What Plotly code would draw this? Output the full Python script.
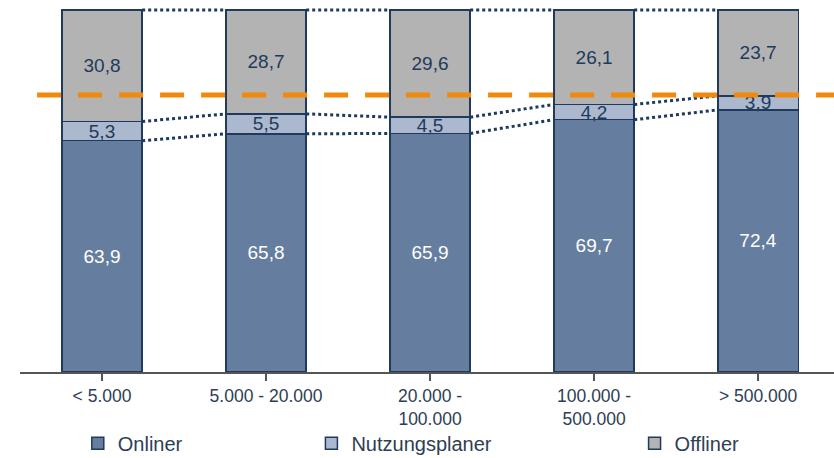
import plotly.graph_objects as go

categories = ["< 5.000", "5.000 - 20.000", "20.000 -<br>100.000", "100.000 -<br>500.000", "> 500.000"]
onliner = [63.9, 65.8, 65.9, 69.7, 72.4]
nutzungsplaner = [5.3, 5.5, 4.5, 4.2, 3.9]
offliner = [30.8, 28.7, 29.6, 26.1, 23.7]
reference_level = 76.5

def fmt(v):
    return f"{v:.1f}".replace(".", ",")

NAVY = "#1f3a5c"
BAR_W = 0.49
FONT = "Liberation Sans, Arial, sans-serif"
TXT = "#2d3e55"

fig = go.Figure()
series = [
    ("Onliner", onliner, "#657ea0", "white", "legend"),
    ("Nutzungsplaner", nutzungsplaner, "#abb8cd", NAVY, "legend2"),
    ("Offliner", offliner, "#b3b3b3", NAVY, "legend3"),
]
x = list(range(len(categories)))
for name, vals, col, tcol, lg in series:
    fig.add_trace(go.Bar(
        x=x, y=vals, name=name, width=BAR_W,
        marker=dict(color=col, line=dict(color=NAVY, width=1.5)),
        text=[fmt(v) for v in vals], textposition="inside", insidetextanchor="middle",
        textangle=0, constraintext="none",
        textfont=dict(color=tcol, size=19, family=FONT),
        insidetextfont=dict(color=tcol, size=19, family=FONT),
        legend=lg, hoverinfo="skip",
    ))

# connector dotted lines between adjacent bars
levels = []
for i in range(len(categories)):
    a = onliner[i]
    b = a + nutzungsplaner[i]
    c = b + offliner[i]
    levels.append((a, b, c))
for i in range(len(categories) - 1):
    for k in range(3):
        fig.add_shape(type="line", xref="x", yref="y",
                      x0=i + BAR_W / 2, x1=i + 1 - BAR_W / 2,
                      y0=levels[i][k], y1=levels[i + 1][k],
                      line=dict(color=NAVY, width=3, dash="dot"))

# orange dashed reference line
fig.add_shape(type="line", xref="paper", yref="y", x0=0.021, x1=1,
              y0=reference_level, y1=reference_level,
              line=dict(color="#f0890c", width=5, dash="24px,17px"), layer="above")

leg_font = dict(size=20, color=TXT, family=FONT)
leg_common = dict(yref="container", y=0.032, xanchor="left", yanchor="middle",
                  orientation="h", font=leg_font, tracegroupgap=0,
                  bgcolor="rgba(0,0,0,0)")
fig.update_layout(
    width=834, height=458,
    margin=dict(l=20, r=0, t=8, b=86, autoexpand=False),
    barmode="stack", bargap=0.51,
    plot_bgcolor="white", paper_bgcolor="white",
    font=dict(family=FONT, size=18, color=TXT),
    uniformtext=dict(minsize=19, mode="show"),
    xaxis=dict(range=[-0.5, 4.463], tickmode="array", tickvals=x, ticktext=categories,
               showline=True, linecolor="#555555", linewidth=1.5,
               ticks="outside", tickson="boundaries", ticklen=7, tickcolor="#555555",
               tickwidth=1.5, showgrid=False, tickfont=dict(size=17.5, color=TXT),
               automargin=False, fixedrange=True),
    yaxis=dict(range=[0, 100.55], visible=False, showgrid=False, fixedrange=True),
    showlegend=True,
    legend=dict(x=0.071, **leg_common),
    legend2=dict(x=0.358, **leg_common),
    legend3=dict(x=0.755, **leg_common),
)

fig.write_html("out.html")
